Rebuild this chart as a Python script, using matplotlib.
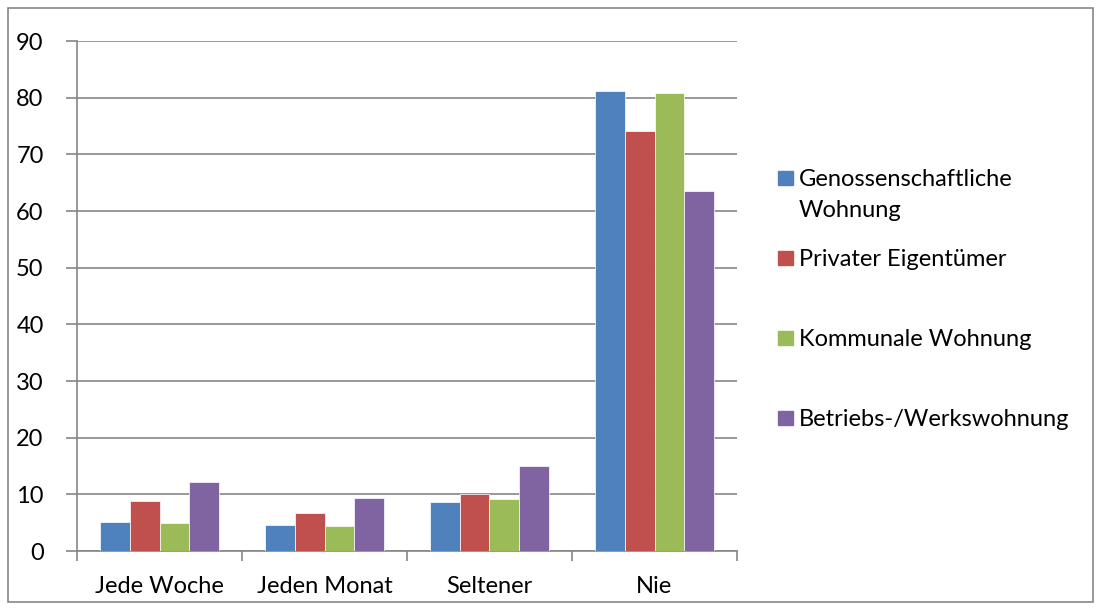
import numpy as np
import matplotlib
matplotlib.use("Agg")
import matplotlib.pyplot as plt
from matplotlib.patches import Rectangle

# --------------------------------------------------------------------
categories = ["Jede Woche", "Jeden Monat", "Seltener", "Nie"]
series = ["Genossenschaftliche\nWohnung", "Privater Eigentümer",
          "Kommunale Wohnung", "Betriebs-/Werkswohnung"]
genossenschaft = [5.2, 4.6, 8.7, 81.2]
privat = [8.8, 6.7, 10.0, 74.2]
kommunal = [5.0, 4.5, 9.2, 80.9]
betrieb = [12.1, 9.3, 15.0, 63.5]
colors = ["#4F81BD", "#C0504D", "#9BBB59", "#8064A2"]
FONT = "Lato"
FONTSIZE = 17
GREY = "#868686"
# --------------------------------------------------------------------
plt.rcParams['font.family'] = [FONT, 'DejaVu Sans']

W, H = 1101, 610
fig = plt.figure(figsize=(W / 100, H / 100), dpi=100)
ax = fig.add_axes([77 / W, 1 - 551 / H, 660 / W, 510 / H])

values = [genossenschaft, privat, kommunal, betrieb]
x = np.arange(len(categories))
bw = 0.18
for i, vals in enumerate(values):
    ax.bar(x + (i - 1.5) * bw, vals, width=bw, color=colors[i],
           edgecolor="white", linewidth=0.5, zorder=3)

ax.set_xlim(-0.5, len(categories) - 0.5)
ax.set_ylim(0, 90)
ax.set_yticks(range(0, 91, 10))
ax.yaxis.grid(True, color=GREY, linewidth=1.2, zorder=0)
ax.set_xticks(x)
ax.set_xticklabels(categories, fontsize=FONTSIZE)
ax.set_xticks(np.arange(-0.5, len(categories), 1), minor=True)
ax.tick_params(axis="x", which="major", length=0, pad=18)
ax.tick_params(axis="x", which="minor", length=7, color=GREY, width=1.2)
ax.tick_params(axis="y", length=8, color=GREY, width=1.2, labelsize=FONTSIZE, pad=16)
for s in ["top", "right"]:
    ax.spines[s].set_visible(False)
for s in ["left", "bottom"]:
    ax.spines[s].set_color(GREY)
    ax.spines[s].set_linewidth(1.2)

# legend on the right
ys = [178, 258, 338, 418]
for i, name in enumerate(series):
    fig.patches.append(Rectangle((778 / W, 1 - (ys[i] + 7) / H), 15 / W, 14 / H,
                                 transform=fig.transFigure, color=colors[i]))
    fig.text(799 / W, 1 - (ys[i] - 9) / H, name, fontsize=FONTSIZE,
             va="top", ha="left", linespacing=1.6)

# outer frame
fig.patches.append(Rectangle((8 / W, 8 / H), 1085 / W, 594 / H, transform=fig.transFigure,
                             fill=False, edgecolor=GREY, linewidth=1.2))

plt.savefig("out.png", dpi=100)
